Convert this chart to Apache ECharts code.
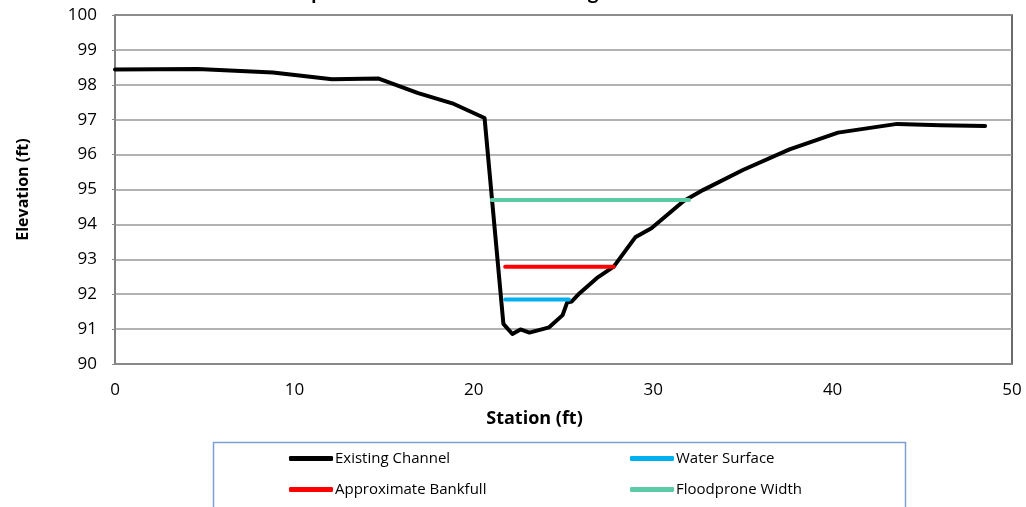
<!DOCTYPE html>
<html>
<head>
<meta charset="utf-8">
<script src="https://cdn.jsdelivr.net/npm/echarts@6/dist/echarts.min.js"></script>
<style>
  html, body { margin: 0; padding: 0; background: #fff; }
  #chart { width: 1026px; height: 507px; }
</style>
</head>
<body>
<div id="chart"></div>
<script>
// Surveyed channel profile: station (ft) and elevation (ft)
const channelStation = [0, 4.6, 8.8, 12.1, 14.7, 16.9, 18.8, 20.6, 21.65, 22.15, 22.6, 23.1, 24.2, 24.95, 25.2, 25.45, 25.9, 26.85, 27.8, 29.0, 29.9, 31.7, 32.8, 35.0, 37.6, 40.3, 43.6, 46.0, 48.5];
const channelElevation = [98.44, 98.45, 98.35, 98.16, 98.18, 97.76, 97.47, 97.05, 91.15, 90.86, 90.99, 90.9, 91.05, 91.4, 91.76, 91.79, 92.03, 92.46, 92.79, 93.63, 93.89, 94.67, 94.99, 95.56, 96.15, 96.63, 96.88, 96.84, 96.82];

// Horizontal reference levels: [start station, end station, elevation]
const waterSurface = [21.75, 25.3, 91.85];
const bankfull = [21.75, 27.8, 92.79];
const floodprone = [21.0, 32.0, 94.7];

const xTicks = { min: 0, max: 50, step: 10 };
const yTicks = { min: 90, max: 100, step: 1 };

const seriesNames = ['Existing Channel', 'Water Surface', 'Approximate Bankfull', 'Floodprone Width'];
const seriesColors = ['#000000', '#00b0f0', '#ff0000', '#5ccaa6'];

const FONT = '"Open Sans", "Noto Sans", sans-serif';
const TITLE_FONT = 'Lato, "Noto Sans", sans-serif';

const channelData = channelStation.map((s, i) => [s, channelElevation[i]]);
const level = (l) => [[l[0], l[2]], [l[1], l[2]]];

function lineSeries(name, color, data, z) {
  return {
    name: name,
    type: 'line',
    data: data,
    showSymbol: false,
    symbol: 'none',
    color: color,
    itemStyle: { color: color },
    lineStyle: { color: color, width: 4, cap: 'round', join: 'round' },
    z: z,
    animation: false
  };
}

function legendAt(name, left, top) {
  return {
    data: [name],
    left: left,
    top: top,
    padding: 0,
    icon: 'roundRect',
    itemWidth: 44,
    itemHeight: 5,
    selectedMode: false,
    textStyle: { fontFamily: FONT, fontSize: 15, color: '#000', padding: [0, 0, 0, -3] }
  };
}

const chart = echarts.init(document.getElementById('chart'), null, { renderer: 'canvas' });

chart.setOption({
  backgroundColor: '#fff',
  animation: false,
  title: {
    text: 'Upstream Cross Section Looking Downstream',
    left: 296,
    top: -18,
    padding: 0,
    textStyle: { fontFamily: TITLE_FONT, fontSize: 21, fontWeight: 'bold', color: '#000' }
  },
  grid: {
    left: 115, right: 14, top: 15, bottom: 143,
    show: true,
    borderColor: '#3a3a3a',
    borderWidth: 1.5,
    backgroundColor: 'transparent'
  },
  xAxis: {
    type: 'value',
    min: xTicks.min, max: xTicks.max, interval: xTicks.step,
    name: 'Station (ft)',
    nameLocation: 'middle',
    nameGap: 46,
    nameTextStyle: { fontFamily: FONT, fontSize: 18, fontWeight: 'bold', color: '#000', padding: [0, 58, 0, 0] },
    axisLine: { show: true, lineStyle: { color: '#888', width: 1.5 } },
    axisTick: { show: false },
    splitLine: { show: false },
    axisLabel: { fontFamily: FONT, fontSize: 17, color: '#000', margin: 18 }
  },
  yAxis: {
    type: 'value',
    min: yTicks.min, max: yTicks.max, interval: yTicks.step,
    name: 'Elevation (ft)',
    nameLocation: 'middle',
    nameGap: 84,
    nameTextStyle: { fontFamily: FONT, fontSize: 16, fontWeight: 'bold', color: '#000' },
    axisLine: { show: true, lineStyle: { color: '#888', width: 1.5 } },
    axisTick: { show: true, inside: false, length: 3, lineStyle: { color: '#888' } },
    splitLine: { show: true, lineStyle: { color: '#999', width: 1.5 } },
    axisLabel: { fontFamily: FONT, fontSize: 17, color: '#000', margin: 18 }
  },
  graphic: [{
    type: 'rect',
    shape: { x: 213.5, y: 442.5, width: 692, height: 90 },
    style: { fill: '#fff', stroke: '#7e9fd2', lineWidth: 1.5 },
    z: 0
  }],
  legend: [
    legendAt(seriesNames[0], 289, 451),
    legendAt(seriesNames[1], 630, 451),
    legendAt(seriesNames[2], 289, 482),
    legendAt(seriesNames[3], 630, 482)
  ],
  series: [
    lineSeries(seriesNames[0], seriesColors[0], channelData, 2),
    lineSeries(seriesNames[1], seriesColors[1], level(waterSurface), 3),
    lineSeries(seriesNames[2], seriesColors[2], level(bankfull), 3),
    lineSeries(seriesNames[3], seriesColors[3], level(floodprone), 3)
  ]
});
</script>
</body>
</html>
